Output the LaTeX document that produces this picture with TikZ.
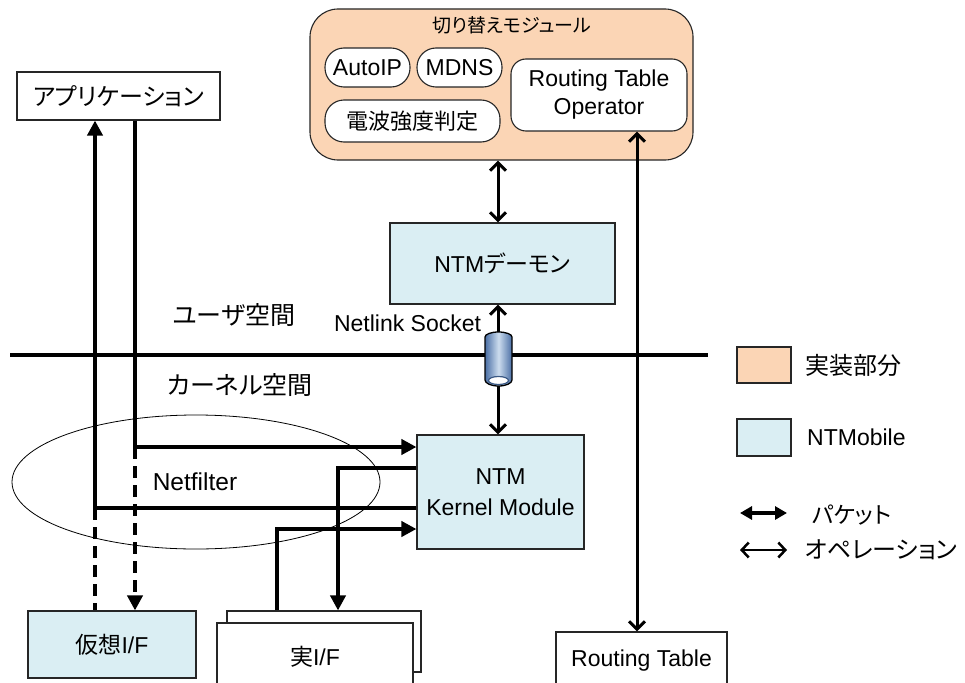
\documentclass[tikz,border=0pt]{standalone}
\usepackage{fontspec}
\setmainfont{Liberation Sans}
\newfontfamily\cjk{Noto Sans CJK JP}[RawFeature=+palt]
\usetikzlibrary{arrows.meta}
\definecolor{implc}{HTML}{FBD5B5}
\definecolor{ntmc}{HTML}{DAEEF3}
\definecolor{cyldark}{HTML}{4A6FA5}
\definecolor{cyllight}{HTML}{CCDCEE}
\begin{document}
\begin{tikzpicture}[x=1pt,y=-1pt,
  box/.style={draw=black!85, line width=1.1pt, inner sep=0pt, align=center,
    font=\fontsize{23}{28}\selectfont},
  pill/.style={box, fill=white, rounded corners=19pt},
  lat/.style={inner sep=0pt, font=\fontsize{23}{28}\selectfont},
  jp/.style={inner sep=0pt, font={\cjk\fontsize{#1}{30}\selectfont}},
  pkt/.style={line width=4pt},
  pktdash/.style={line width=4.5pt, dash pattern=on 12pt off 7pt},
  pkarrow/.style={-{Triangle[length=15pt,width=15pt]}},
  opr/.style={line width=3pt,
    {Straight Barb[length=8pt,width=16pt]}-{Straight Barb[length=8pt,width=16pt]}},
]
\fill[white] (0,0) rectangle (965,682);
\clip (0,0) rectangle (965,682);

% guide coordinates for the connectors
\coordinate (xa) at (135,0);
\coordinate (xb) at (95,0);
\coordinate (xc) at (338,0);
\coordinate (xd) at (277,0);
\coordinate (ya) at (0,447);
\coordinate (yb) at (0,468);
\coordinate (yc) at (0,508);
\coordinate (yd) at (0,529);
\coordinate (ax) at (498,0);
\coordinate (rx) at (637,0);

% Netfilter region
\draw[line width=0.8pt] (196,482) ellipse [x radius=184, y radius=67];
\node[inner sep=0pt, font=\fontsize{24.5}{28}\selectfont] (nf) at (195,482) {Netfilter};

% switching module
\node[box, fill=implc, rounded corners=28pt, minimum width=383pt, minimum height=151pt] (mod) at (501.5,84.5) {};
\node[jp=19] (modtitle) at (512,25) {切り替えモジュール};
\node[pill, minimum width=85pt, minimum height=39pt] (autoip) at (367.5,67.5) {AutoIP};
\node[pill, minimum width=85pt, minimum height=39pt] (mdns) at (459.5,67.5) {MDNS};
\node[pill, minimum width=175pt, minimum height=42pt, font={\cjk\fontsize{22}{26}\selectfont}] (radio) at (412.5,121) {電波強度判定};
\node[box, fill=white, rounded corners=15pt, minimum width=176pt, minimum height=72pt] (rto) at (599,95) {Routing Table\\Operator};

% other blocks
\node[box, fill=white, minimum width=203pt, minimum height=48pt, font={\cjk\fontsize{24}{28}\selectfont}] (app) at (118.5,96) {アプリケーション};
\node[box, fill=ntmc, minimum width=225pt, minimum height=81pt] (daemon) at (502.5,263.5) {NTM{\cjk デーモン}};
\node[box, fill=ntmc, minimum width=167pt, minimum height=114pt, font=\fontsize{23}{31}\selectfont] (kernel) at (500.5,492) {NTM\\Kernel Module};
\node[box, fill=ntmc, minimum width=168pt, minimum height=67pt] (vif) at (112,644.5) {{\cjk 仮想}I/F};
\node[box, fill=white, minimum width=194pt, minimum height=61pt] (rifback) at (324,641.5) {};
\node[box, fill=white, minimum width=196pt, minimum height=67pt] (rif) at (315,656.5) {{\cjk 実}I/F};
\node[box, fill=white, minimum width=171pt, minimum height=58pt] (rt) at (641.5,661) {Routing Table};

% user / kernel boundary
\coordinate (sepL) at (10,355);
\coordinate (sepR) at (708,355);
\node[jp=25] (user) at (234,315) {ユーザ空間};
\node[jp=25] (kspace) at (240,385) {カーネル空間};
\node[lat] (nl) at (407.5,323) {Netlink Socket};

% operations
\draw[opr] (mod.south -| ax) -- (daemon.north -| ax);
\draw[opr] (daemon.south -| ax) -- (kernel.north -| ax);
\draw[opr] (rto.south -| rx) -- (rt.north -| rx);

\draw[line width=4pt] (sepL) -- (sepR);

% netlink socket
\shadedraw[left color=cyldark, right color=cyldark, middle color=cyllight, draw=black, line width=1.3pt]
  (485,337) -- (485,380) arc[start angle=180, end angle=0, x radius=13.5, y radius=6]
  -- (512,337) arc[start angle=0, end angle=-180, x radius=13.5, y radius=5] -- cycle;
\filldraw[fill=white, draw=cyldark!80!black, line width=1.2pt] (498.5,380.5) ellipse [x radius=10, y radius=4];

% packets
\draw[pkt, pkarrow] (app.south -| xa) |- (kernel.west |- ya);
\draw[pkt, pkarrow] (kernel.west |- yc) -| (app.south -| xb);
\draw[pkt, pkarrow] (kernel.west |- yb) -| (rifback.north -| xc);
\draw[pkt, pkarrow] (rifback.north -| xd) |- (kernel.west |- yd);
\draw[pktdash, pkarrow] (xa |- ya) -- (vif.north -| xa);
\draw[pktdash] (xb |- yc) -- (vif.north -| xb);
\fill (xc |- yc) circle (3pt);
\fill (xc |- yd) circle (3pt);

% legend
\node[box, fill=implc, minimum width=54pt, minimum height=36pt] (legimpl) at (764,365) {};
\node[jp=24, anchor=west] (legimpltxt) at (805,365) {実装部分};
\node[box, fill=ntmc, minimum width=54pt, minimum height=37pt] (legntm) at (764,437.5) {};
\node[lat, anchor=west] (legntmtxt) at (807,437) {NTMobile};
\coordinate (lp1) at (740,513);
\coordinate (lp2) at (787,513);
\draw[line width=3.5pt, {Triangle[length=12pt,width=13pt]}-{Triangle[length=12pt,width=13pt]}] (lp1) -- (lp2);
\node[jp=23, anchor=west] (legpkt) at (812,515) {パケット};
\coordinate (lo1) at (740,550);
\coordinate (lo2) at (787,550);
\draw[line width=2.5pt, {Straight Barb[length=7pt,width=15pt]}-{Straight Barb[length=7pt,width=15pt]}] (lo1) -- (lo2);
\node[jp=24, anchor=west] (legop) at (805,550) {オペレーション};
\end{tikzpicture}
\end{document}
